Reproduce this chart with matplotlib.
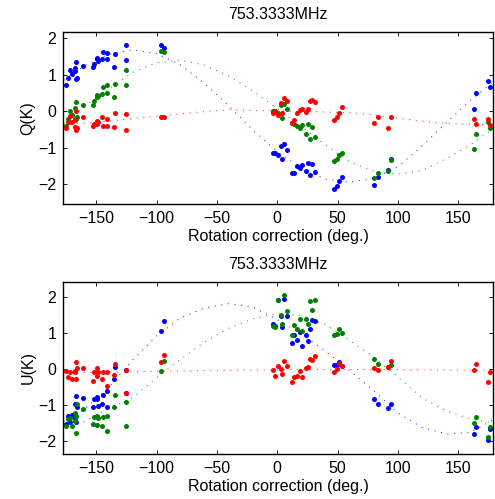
import numpy as np
import matplotlib.pyplot as plt

plt.rcParams['font.family'] = ['Liberation Sans', 'DejaVu Sans']

# rotation correction (deg.) of each measurement
rot = [-175.1, -173.2, -171.8, -170.4, -167.6, -166.8, -167.6, -166.8, -165.7, -161.3,
       -152.5, -151.7, -149.7, -149.2, -148.3, -145.5, -144.7, -140.9, -140.9, -134.5,
       -135.1, -125.4, -125.4, -96.4, -93.6,
       -3.3, -1.9, 0.8, 3.1, 4.2, 5.8, 7.8, 11.9, 14.1, 16.6, 18.8, 20.7, 23.5, 25.2,
       27.1, 28.5, 31.2, 47.2, 49.2, 51.4, 53.9, 80.1, 83.2, 91.5, 94.0,
       163.3, 164.4, 174.4, 176.3]

q_blue = [0.73, 0.92, 1.12, 1.01, 1.17, 1.35, 1.10, 0.88, 0.92, 1.25,
          1.21, 1.29, 1.42, 1.47, 1.38, 1.44, 1.62, 1.60, 1.42, 1.56,
          1.21, 1.81, 1.40, 1.80, 1.72,
          -1.13, -1.13, -1.21, -0.95, -1.32, -0.90, -1.05, -1.68, -1.70, -1.50, -1.54, -1.46,
          -1.64, -1.41, -1.75, -1.44, -1.66, -2.14, -2.05, -1.92, -1.80, -2.03, -1.81,
          -1.60, -1.30, 0.05, 0.51, 0.83, 0.67]
q_green = [-0.41, -0.20, 0.01, -0.11, 0.10, 0.24, -0.20, -0.22, -0.15, 0.16,
           0.18, 0.27, 0.44, 0.39, 0.42, 0.48, 0.67, 0.71, 0.51, 0.74,
           0.38, 1.14, 0.71, 1.64, 1.62,
           0.0, 0.0, -0.06, 0.18, -0.18, 0.19, 0.07, -0.32, -0.34, -0.41, -0.46, -0.38,
           -0.61, -0.34, -0.75, -0.43, -0.70, -1.37, -1.32, -1.19, -1.13, -1.83, -1.68,
           -1.63, -1.34, -1.04, -0.61, -0.29, -0.46]
q_red = [-0.47, -0.29, -0.14, -0.29, -0.43, 0.01, -0.25, -0.50, -0.46, -0.16,
         -0.41, -0.34, -0.27, -0.34, -0.30, -0.16, -0.41, -0.20, -0.41, -0.06,
         -0.43, -0.08, -0.52, -0.15, -0.16,
         -0.06, 0.0, -0.09, 0.23, -0.05, 0.37, 0.27, -0.31, -0.23, -0.04, 0.03, 0.07,
         -0.02, 0.07, 0.27, 0.30, 0.24, -0.25, -0.16, -0.04, 0.12, -0.32, -0.17,
         -0.45, -0.16, -0.20, -0.36, -0.20, -0.38]

u_blue = [-1.52, -1.30, -1.48, -1.27, -0.96, -0.74, -1.36, -1.46, -1.04, -0.79,
          -1.06, -0.82, -0.83, -0.78, -1.02, -0.96, -0.71, -0.60, -1.04, 0.06,
          -0.28, -0.02, -0.67, 1.06, 1.35,
          1.26, 1.20, 1.91, 1.48, 1.16, 1.94, 1.48, 0.72, 0.94, 0.81, 1.02, 0.65,
          0.95, 0.79, 1.11, 1.37, 1.35, 0.12, 0.12, 0.21, 0.09, -0.83, -0.96,
          -1.07, -0.97, -1.80, -1.61, -1.96, -1.67]
u_green = [-1.58, -1.38, -1.36, -1.59, -1.21, -1.30, -1.43, -1.78, -0.96, -1.11,
           -1.52, -1.32, -1.55, -1.30, -1.36, -1.58, -1.33, -1.30, -1.71, -0.71,
           -1.04, -0.92, -1.58, -0.05, 0.23,
           1.20, 1.17, 1.93, 1.51, 1.26, 2.05, 1.62, 0.95, 1.23, 1.12, 1.39, 1.05,
           1.40, 1.26, 1.90, 1.63, 1.93, 0.95, 0.98, 1.11, 1.00, 0.28, 0.15,
           0.07, 0.12, -1.50, -1.33, -1.89, -1.62]
u_red = [-0.04, -0.22, -0.07, -0.26, -0.04, 0.21, -0.09, -0.26, 0.03, 0.03,
         -0.32, -0.09, -0.19, 0.03, -0.07, -0.26, -0.07, -0.09, -0.48, 0.15,
         -0.16, -0.02, -0.65, 0.21, 0.40,
         -0.02, -0.19, 0.09, 0.0, -0.13, 0.23, 0.10, -0.36, -0.23, -0.18, -0.04, -0.23,
         0.03, 0.06, 0.28, 0.26, 0.37, -0.07, 0.01, 0.17, 0.09, 0.04, -0.02,
         0.07, 0.23, -0.02, 0.14, -0.36, -0.08]

fit_rot = [-177, -160, -140, -120, -100, -80, -60, -40, -20, 0,
           20, 40, 60, 80, 100, 120, 140, 160, 179]
qfit_blue = [0.85, 1.24, 1.56, 1.68, 1.58, 1.26, 0.76, 0.14, -0.52, -1.10,
             -1.56, -1.86, -1.94, -1.84, -1.52, -0.95, -0.32, 0.30, 0.80]
qfit_green = [-0.35, 0.12, 0.60, 1.06, 1.33, 1.40, 1.26, 0.96, 0.55, 0.08,
              -0.42, -0.92, -1.38, -1.64, -1.72, -1.62, -1.30, -0.92, -0.47]
qfit_red = [-0.38, -0.33, -0.27, -0.20, -0.14, -0.07, -0.01, 0.04, 0.02, 0.01,
            0.0, -0.02, -0.04, -0.10, -0.19, -0.27, -0.33, -0.36, -0.37]
ufit_blue = [-1.45, -1.12, -0.52, 0.25, 0.92, 1.43, 1.70, 1.82, 1.72, 1.38,
             0.98, 0.50, -0.04, -0.60, -1.22, -1.62, -1.80, -1.76, -1.40]
ufit_green = [-1.55, -1.46, -1.10, -0.80, -0.24, 0.28, 0.76, 1.14, 1.40, 1.54,
              1.50, 1.24, 0.80, 0.34, -0.22, -0.80, -1.16, -1.38, -1.50]
ufit_red = [-0.10, -0.09, -0.08, -0.07, -0.06, -0.05, -0.04, -0.03, -0.02, -0.02,
            -0.01, -0.01, -0.01, -0.01, -0.01, -0.02, -0.02, -0.03, -0.03]

cols = ['#0000ff', '#008000', '#ff0000']
title = '753.3333MHz'

fig = plt.figure(figsize=(4.95, 4.99), dpi=100)
ax1 = fig.add_axes([0.128, 0.591, 0.868, 0.345])
ax2 = fig.add_axes([0.128, 0.090, 0.868, 0.3455])

panels = [
    (ax1, [q_blue, q_green, q_red], [qfit_blue, qfit_green, qfit_red], 'Q(K)', (-2.54, 2.17)),
    (ax2, [u_blue, u_green, u_red], [ufit_blue, ufit_green, ufit_red], 'U(K)', (-2.36, 2.43)),
]

for ax, pts, fits, ylab, ylim in panels:
    for y, c in zip(pts, cols):
        ax.plot(rot, y, 'o', color=c, ms=3.6, mew=0)
    for f, c in zip(fits, cols):
        ax.plot(fit_rot, f, color=c, lw=0.8, dashes=(1, 5), alpha=0.75)
    ax.set_xlim(-177.2, 178.8)
    ax.set_ylim(*ylim)
    ax.set_xticks([-150, -100, -50, 0, 50, 100, 150])
    ax.set_yticks([-2, -1, 0, 1, 2])
    ax.tick_params(direction='in', length=3, width=0.6, top=True, right=True,
                   labelsize=11.5, pad=5)
    for s in ax.spines.values():
        s.set_linewidth(1.0)
    ax.set_title(title, fontsize=11.5, pad=9)
    ax.set_xlabel('Rotation correction (deg.)', fontsize=11.5, labelpad=2)
    ax.set_ylabel(ylab, fontsize=11.5, labelpad=2)

fig.savefig('out.png', dpi=100)
